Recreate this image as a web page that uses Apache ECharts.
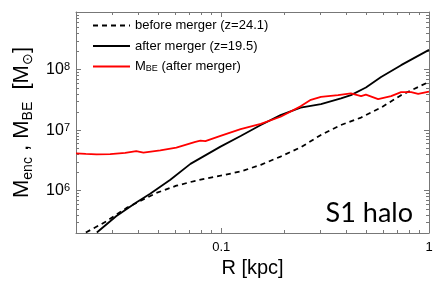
<!DOCTYPE html>
<html>
<head>
<meta charset="utf-8">
<script src="https://cdn.jsdelivr.net/npm/echarts@6/dist/echarts.min.js"></script>
<style>html,body{margin:0;padding:0;background:#fff}#c{width:437px;height:291px}</style>
</head>
<body>
<div id="c"></div>
<script>
// ---- data ----
const R_before = [0.0223, 0.0279, 0.0349, 0.039, 0.0487, 0.0608, 0.0751, 0.0992, 0.124, 0.155, 0.193, 0.241, 0.302, 0.377, 0.471, 0.588, 0.734, 1.0];
const M_before = [2.04e5, 3.09e5, 5.15e5, 6.28e5, 9.17e5, 1.21e6, 1.46e6, 1.77e6, 2.08e6, 2.68e6, 3.67e6, 5.2e6, 8.36e6, 1.22e7, 1.62e7, 2.37e7, 3.8e7, 6.3e7];
const R_after = [0.0252, 0.0312, 0.039, 0.0455, 0.0569, 0.0711, 0.0992, 0.124, 0.155, 0.193, 0.241, 0.302, 0.377, 0.421, 0.497, 0.588, 0.734, 1.0];
const M_after = [2.04e5, 3.78e5, 6.4e5, 8.93e5, 1.52e6, 2.78e6, 5.36e6, 8.04e6, 1.22e7, 1.78e7, 2.37e7, 2.7e7, 3.36e7, 3.8e7, 5.09e7, 7.61e7, 1.19e8, 2.13e8];
const R_BE = [0.02, 0.0223, 0.0251, 0.0292, 0.0345, 0.039, 0.0422, 0.0509, 0.0608, 0.0751, 0.0794, 0.0839, 0.0992, 0.124, 0.155, 0.193, 0.241, 0.27, 0.302, 0.365, 0.421, 0.471, 0.497, 0.569, 0.657, 0.734, 0.821, 0.887, 1.0];
const M_BE = [4.14e6, 4.06e6, 3.99e6, 4.04e6, 4.22e6, 4.51e6, 4.27e6, 4.64e6, 5.17e6, 6.41e6, 6.73e6, 6.6e6, 8.04e6, 1.04e7, 1.27e7, 1.67e7, 2.48e7, 3.18e7, 3.57e7, 3.8e7, 4.05e7, 3.66e7, 3.88e7, 3.27e7, 3.66e7, 4.26e7, 4.26e7, 3.98e7, 4.34e7];
const xMajorTicks = [0.1, 1];
const xMinorTicks = [0.02, 0.03, 0.04, 0.05, 0.06, 0.07, 0.08, 0.09, 0.2, 0.3, 0.4, 0.5, 0.6, 0.7, 0.8, 0.9];
const xTickLabels = [0.1, 1];
const yMajorTicks = [1e6, 1e7, 1e8];
const yMinorTicks = [2e5,3e5,4e5,5e5,6e5,7e5,8e5,9e5,2e6,3e6,4e6,5e6,6e6,7e6,8e6,9e6,2e7,3e7,4e7,5e7,6e7,7e7,8e7,9e7,2e8,3e8,4e8,5e8,6e8,7e8,8e8];
const yTickLabels = [1e6, 1e7, 1e8];
const seriesNames = ['before merger (z=24.1)', 'after merger (z=19.5)', 'M_BE (after merger)'];

const zip = (a, b) => a.map((v, i) => [v, b[i]]);
const FONT = 'Liberation Sans';
const AX = '#777';
const X = [0.02, 1], Y = [2e5, 9e8];

function xAx(pos, major) {
  return {
    type: 'log', position: pos, min: X[0], max: X[1], logBase: 10,
    axisLine: {show: major, lineStyle: {color: AX, width: 1}},
    axisTick: {show: true, inside: true, length: major ? 5 : 3, customValues: major ? xMajorTicks : xMinorTicks, lineStyle: {color: AX}},
    axisLabel: {show: false},
    splitLine: {show: false}, minorTick: {show: false}
  };
}
function yAx(pos, major) {
  return {
    type: 'log', position: pos, min: Y[0], max: Y[1], logBase: 10,
    axisLine: {show: major, lineStyle: {color: AX, width: 1}},
    axisTick: {show: true, inside: true, length: major ? 5 : 3, customValues: major ? yMajorTicks : yMinorTicks, lineStyle: {color: AX}},
    axisLabel: {show: false},
    splitLine: {show: false}, minorTick: {show: false}
  };
}

const xMain = xAx('bottom', true);
xMain.axisLabel = {show: true, customValues: xTickLabels, color: '#000', fontFamily: FONT, fontSize: 13, margin: 8,
  formatter: v => String(v)};
xMain.name = 'R [kpc]';
xMain.nameLocation = 'middle';
xMain.nameGap = 25;
xMain.nameTextStyle = {color: '#000', fontFamily: FONT, fontSize: 20};

const yMain = yAx('left', true);
yMain.axisLabel = {show: true, customValues: yTickLabels, margin: 6,
  formatter: v => '{b|10}{s|' + Math.round(Math.log10(v)) + '}',
  rich: {b: {fontFamily: FONT, fontSize: 16, color: '#000'}, s: {fontFamily: FONT, fontSize: 11, color: '#000', verticalAlign: 'top'}}};
yMain.name = '{m|M}{sub|enc}{m| , M}{sub|BE}{m|  [M}{sub|⊙}{m|]}';
yMain.nameLocation = 'middle';
yMain.nameRotate = 90;
yMain.nameGap = 30;
yMain.nameTextStyle = {rich: {
  m: {fontFamily: FONT, fontSize: 22, color: '#000', lineHeight: 26},
  sub: {fontFamily: FONT, fontSize: 14, color: '#000', verticalAlign: 'bottom'}
}};

const chart = echarts.init(document.getElementById('c'), null, {renderer: 'canvas'});
chart.setOption({
  animation: false,
  backgroundColor: '#fff',
  grid: {left: 76, right: 8, top: 12, bottom: 58, containLabel: false},
  xAxis: [xMain, xAx('bottom', false), xAx('top', true), xAx('top', false)],
  yAxis: [yMain, yAx('left', false), yAx('right', true), yAx('right', false)],
  legend: {
    left: 87, top: 14, orient: 'vertical', itemWidth: 37, itemHeight: 12, itemGap: 7.5,
    itemStyle: {color: 'rgba(0,0,0,0)', borderColor: 'rgba(0,0,0,0)', borderWidth: 0},
    textStyle: {fontFamily: FONT, fontSize: 13, color: '#000',
      rich: {m: {fontFamily: FONT, fontSize: 13, color: '#000'}, sub: {fontFamily: FONT, fontSize: 9, color: '#000', verticalAlign: 'bottom'}}},
    formatter: n => n === seriesNames[2] ? '{m|M}{sub|BE}{m| (after merger)}' : n,
    data: seriesNames
  },
  series: [
    {name: seriesNames[0], type: 'line', data: zip(R_before, M_before), showSymbol: false, symbol: 'none', clip: true,
      lineStyle: {color: '#000', width: 1.8, type: [5, 4]}, itemStyle: {color: '#000'}},
    {name: seriesNames[1], type: 'line', data: zip(R_after, M_after), showSymbol: false, symbol: 'none', clip: true,
      lineStyle: {color: '#000', width: 1.8}, itemStyle: {color: '#000'}},
    {name: seriesNames[2], type: 'line', data: zip(R_BE, M_BE), showSymbol: false, symbol: 'none', clip: true,
      lineStyle: {color: '#f00', width: 1.8}, itemStyle: {color: '#f00'}}
  ],
  graphic: [{type: 'text', x: 413, y: 213, style: {text: 'S1 halo', font: '27px Lato', fill: '#000', align: 'right', verticalAlign: 'middle'}}]
});
</script>
</body>
</html>
